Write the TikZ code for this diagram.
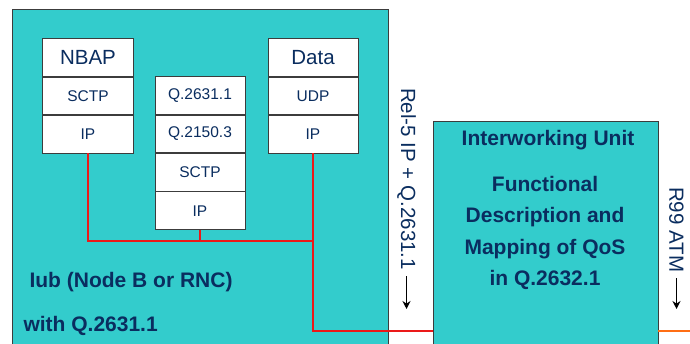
\documentclass[tikz,border=0pt]{standalone}
\usepackage{fontspec}
\setmainfont{Liberation Sans}
\usetikzlibrary{arrows.meta, positioning}
\definecolor{iubteal}{RGB}{51, 204, 204}
\definecolor{textnavy}{RGB}{10, 45, 95}
\definecolor{linkred}{RGB}{235, 25, 25}
\definecolor{atmorange}{RGB}{255, 110, 20}
\definecolor{edgegray}{RGB}{60, 60, 60}

\tikzset{
  unitbox/.style={draw=edgegray, fill=iubteal, line width=0.9pt},
  layer/.style={draw=edgegray, fill=white, line width=0.9pt, minimum width=91pt, minimum height=37.5pt, inner sep=0pt, text=textnavy, font=\fontsize{15.5}{18}\selectfont},
  toplayer/.style={layer, font=\fontsize{20.5}{24}\selectfont},
  boldlabel/.style={text=textnavy, font=\fontsize{21}{25}\selectfont\bfseries},
  sidelabel/.style={text=textnavy, font=\fontsize{20.5}{24}\selectfont, rotate=-90, inner sep=0pt},
  downarrow/.style={-{Stealth[length=8pt, width=8pt]}, line width=1.3pt}
}

\begin{document}
\begin{tikzpicture}[x=1pt, y=-1pt]
  \useasboundingbox (0,0) rectangle (690,344);

  % Iub side
  \draw[unitbox] (12,9) rectangle (388,360);

  % NBAP stack
  \node[toplayer] (nbap) at (88,57.5) {NBAP};
  \node[layer, below=0pt of nbap] (nbapsctp) {SCTP};
  \node[layer, below=0pt of nbapsctp] (nbapip) {IP};

  % Q.2631.1 stack
  \node[layer, minimum width=90pt] (qaal) at (200,95.5) {Q.2631.1};
  \node[layer, minimum width=90pt, below=0pt of qaal] (qtrans) {Q.2150.3};
  \node[layer, minimum width=90pt, below=0pt of qtrans] (qsctp) {SCTP};
  \node[layer, minimum width=90pt, below=0pt of qsctp] (qip) {IP};

  % Data stack
  \node[toplayer, minimum width=90pt] (data) at (313,57.5) {Data};
  \node[layer, minimum width=90pt, below=0pt of data] (dataudp) {UDP};
  \node[layer, minimum width=90pt, below=0pt of dataudp] (dataip) {IP};

  \node[boldlabel, anchor=west] (iublabel) at (26,282) {Iub (Node B or RNC)};
  \node[boldlabel, anchor=west] (withlabel) at (20,326) {with Q.2631.1};

  % Interworking unit
  \draw[unitbox] (433,121) rectangle (658,360);
  \node[boldlabel] (iwutitle) at (548,140) {Interworking Unit};
  \node[boldlabel, align=center, font=\fontsize{21}{31.5}\selectfont\bfseries] (iwutext) at (545,233) {Functional\\Description and\\Mapping of QoS\\in Q.2632.1};

  % IP links
  \coordinate (junc) at (313,241);
  \coordinate (iwuin) at (433,331);
  \draw[linkred, line width=1.9pt] (nbapip.south) |- (junc);
  \draw[linkred, line width=1.9pt] (qip.south) -- (qip.south |- junc);
  \draw[linkred, line width=1.9pt] (dataip.south) |- (iwuin);

  % ATM link
  \coordinate (atmin) at (658,331);
  \coordinate (atmout) at (690,331);
  \draw[atmorange, line width=1.9pt] (atmin) -- (atmout);

  % interface labels
  \node[sidelabel, anchor=west] (relfive) at (406.5,88) {Rel-5 IP + Q.2631.1};
  \coordinate (relend) at (406.5,309);
  \draw[downarrow] ([yshift=-6pt]relfive.east) -- (relend);

  \node[sidelabel, anchor=west] (rnine) at (676.5,187) {R99 ATM};
  \coordinate (rnineend) at (676.5,309);
  \draw[downarrow] ([yshift=-6pt]rnine.east) -- (rnineend);
\end{tikzpicture}
\end{document}
